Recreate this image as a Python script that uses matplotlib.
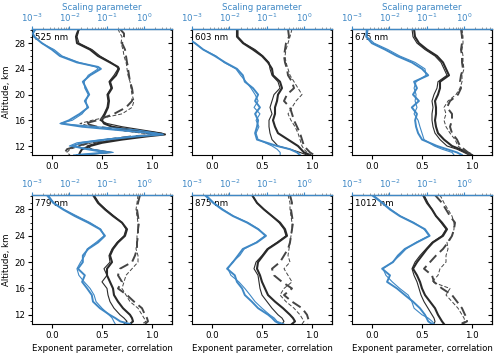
import numpy as np
import matplotlib
matplotlib.use("Agg")
import matplotlib.pyplot as plt
from matplotlib.ticker import MultipleLocator, LogLocator, NullFormatter

# ---------------- data ----------------
wavelengths = ["525 nm", "603 nm", "675 nm", "779 nm", "875 nm", "1012 nm"]

alt_525 = [30.2, 29.5, 29, 28, 27, 26, 25, 24.3, 24, 23, 22, 21, 20, 19, 18, 17, 16,
           15.5, 15, 14.5, 14, 13.8, 13.5, 13, 12.5, 12, 11.5, 11, 10.6]
alt_std = [30.2, 29, 28, 27, 26, 25, 24, 23, 22, 21, 20, 19, 18, 17, 16, 15, 14, 13,
           12, 11.5, 11, 10.6]

# scaling parameter (blue, top log axis): thick / thin
scal_thick_525 = [1.2e-3, 1.06e-3, 1.13e-3, 1.85e-3, 3.4e-3, 5.6e-3, 1.6e-2, 5.9e-2, 7.0e-2,
                  3.6e-2, 2.3e-2, 2.8e-2, 3.4e-2, 2.6e-2, 3.2e-2, 1.9e-2, 9.8e-3, 6.0e-3,
                  2.2e-2, 0.19, 1.64, 3.2, 0.65, 0.10, 2.2e-2, 1.2e-2, 3.0e-2, 0.10, 1.6e-2]
scal_thin_525 = [1.3e-3, 1.06e-3, 1.2e-3, 1.8e-3, 3.9e-3, 6.4e-3, 1.8e-2, 5.2e-2, 5.9e-2,
                 3.2e-2, 2.5e-2, 2.6e-2, 3.2e-2, 2.8e-2, 3.0e-2, 2.2e-2, 1.2e-2, 5.6e-3,
                 5.5e-2, 0.65, 2.2, 2.7, 0.48, 7.5e-2, 1.6e-2, 1.0e-2, 4.0e-2, 0.15, 1.3e-2]
scal_thick_603 = [4e-4, 6.5e-4, 1.2e-3, 2.0e-3, 4.1e-3, 7.7e-3, 1.6e-2, 2.3e-2, 2.6e-2, 4.3e-2,
                  5.9e-2, 4.9e-2, 6.6e-2, 4.9e-2, 5.9e-2, 5.5e-2, 4.9e-2, 5.5e-2, 0.19, 0.42,
                  0.65, 0.78]
scal_thin_603 = [4e-4, 6.5e-4, 1.2e-3, 2.0e-3, 4.4e-3, 7.2e-3, 1.5e-2, 2.0e-2, 2.8e-2, 3.8e-2,
                 4.9e-2, 5.9e-2, 4.6e-2, 6.6e-2, 5.2e-2, 6.2e-2, 5.2e-2, 5.9e-2, 0.14, 0.19,
                 0.23, 0.23]
scal_thick_675 = [2.5e-3, 2.4e-3, 3.4e-3, 7.7e-3, 1.6e-2, 4.0e-2, 7.5e-2, 0.11, 4.6e-2, 5.5e-2,
                  4.3e-2, 6.2e-2, 4.0e-2, 5.5e-2, 4.9e-2, 5.2e-2, 5.9e-2, 7.5e-2, 0.19, 0.35,
                  0.65, 0.88]
scal_thin_675 = [2.7e-3, 2.5e-3, 3.9e-3, 9.2e-3, 1.9e-2, 4.9e-2, 9.0e-2, 9.6e-2, 5.2e-2, 4.6e-2,
                 5.2e-2, 4.9e-2, 5.5e-2, 4.6e-2, 5.9e-2, 6.6e-2, 7.5e-2, 8.5e-2, 0.16, 0.26,
                 0.48, 0.54]
scal_thick_779 = [2.5e-3, 3.7e-3, 6.8e-3, 1.4e-2, 3.2e-2, 6.6e-2, 9.0e-2, 5.9e-2, 3.2e-2, 2.3e-2,
                  2.3e-2, 1.7e-2, 2.6e-2, 2.2e-2, 3.0e-2, 4.0e-2, 4.3e-2, 6.6e-2, 0.12, 0.17,
                  0.23, 0.42]
scal_thin_779 = [2.7e-3, 3.9e-3, 7.2e-3, 1.6e-2, 3.6e-2, 7.0e-2, 8.5e-2, 5.2e-2, 3.0e-2, 2.6e-2,
                 2.0e-2, 1.6e-2, 1.8e-2, 2.5e-2, 3.6e-2, 4.6e-2, 5.2e-2, 7.5e-2, 0.115, 0.14,
                 0.155, 0.17]
scal_thick_875 = [2.2e-3, 3.7e-3, 6.4e-3, 1.25e-2, 3.0e-2, 5.9e-2, 9.6e-2, 5.5e-2, 2.3e-2, 1.7e-2,
                  1.25e-2, 8.7e-3, 1.4e-2, 1.6e-2, 2.2e-2, 2.6e-2, 4.0e-2, 5.9e-2, 0.11, 0.14,
                  0.17, 0.23]
scal_thin_875 = [2.4e-3, 3.9e-3, 6.8e-3, 1.3e-2, 3.2e-2, 6.2e-2, 9.0e-2, 5.2e-2, 2.5e-2, 1.9e-2,
                 1.2e-2, 9.2e-3, 1.1e-2, 1.8e-2, 2.6e-2, 3.6e-2, 4.9e-2, 7.5e-2, 0.12, 0.16,
                 0.19, 0.29]
scal_thick_1012 = [3.4e-3, 6.4e-3, 1.04e-2, 1.9e-2, 4.3e-2, 9.0e-2, 0.12, 5.5e-2, 2.6e-2, 1.7e-2,
                   1.25e-2, 6.4e-3, 1.04e-2, 8.7e-3, 1.6e-2, 2.6e-2, 4.3e-2, 6.6e-2, 9.0e-2, 0.10,
                   0.11, 0.14]
scal_thin_1012 = [3.7e-3, 6.8e-3, 1.1e-2, 2.0e-2, 4.6e-2, 8.5e-2, 0.116, 5.2e-2, 2.8e-2, 1.9e-2,
                  1.2e-2, 6.8e-3, 8.1e-3, 1.2e-2, 1.9e-2, 3.2e-2, 4.0e-2, 4.6e-2, 7.5e-2, 0.11,
                  0.14, 0.16]

# exponent parameter (black solid): thick / thin
expo_thick_525 = [0.27, 0.25, 0.24, 0.25, 0.38, 0.46, 0.58, 0.66, 0.67, 0.64, 0.58, 0.60, 0.56,
                  0.57, 0.56, 0.53, 0.50, 0.52, 0.60, 0.80, 1.05, 1.13, 0.95, 0.70, 0.50, 0.38,
                  0.30, 0.28, 0.27]
expo_thin_525 = [0.27, 0.26, 0.25, 0.27, 0.40, 0.48, 0.59, 0.65, 0.66, 0.62, 0.57, 0.59, 0.55,
                 0.56, 0.55, 0.52, 0.48, 0.55, 0.70, 0.90, 1.10, 1.12, 0.90, 0.65, 0.45, 0.35,
                 0.40, 0.60, 0.30]
expo_thick_603 = [0.25, 0.25, 0.31, 0.41, 0.50, 0.56, 0.60, 0.61, 0.68, 0.70, 0.66, 0.65, 0.63,
                  0.63, 0.61, 0.63, 0.66, 0.76, 0.86, 0.89, 0.92, 0.98]
expo_thin_603 = [0.26, 0.26, 0.32, 0.43, 0.51, 0.57, 0.58, 0.60, 0.66, 0.68, 0.62, 0.60, 0.58,
                 0.60, 0.57, 0.57, 0.58, 0.60, 0.66, 0.78, 0.88, 0.95]
expo_thick_675 = [0.42, 0.43, 0.47, 0.55, 0.65, 0.71, 0.74, 0.77, 0.68, 0.68, 0.66, 0.63, 0.64,
                  0.64, 0.63, 0.64, 0.66, 0.72, 0.80, 0.88, 0.95, 1.00]
expo_thin_675 = [0.40, 0.41, 0.45, 0.53, 0.63, 0.69, 0.72, 0.75, 0.66, 0.65, 0.62, 0.60, 0.61,
                 0.60, 0.60, 0.61, 0.63, 0.68, 0.75, 0.85, 0.92, 0.97]
expo_thick_779 = [0.41, 0.46, 0.53, 0.61, 0.70, 0.75, 0.73, 0.66, 0.61, 0.58, 0.60, 0.55, 0.55,
                  0.58, 0.61, 0.62, 0.66, 0.71, 0.78, 0.80, 0.81, 0.78]
expo_thin_779 = [0.42, 0.47, 0.54, 0.62, 0.70, 0.74, 0.72, 0.65, 0.60, 0.57, 0.58, 0.52, 0.55,
                 0.50, 0.55, 0.56, 0.58, 0.62, 0.68, 0.72, 0.75, 0.72]
expo_thick_875 = [0.40, 0.45, 0.52, 0.60, 0.68, 0.73, 0.75, 0.66, 0.56, 0.51, 0.46, 0.45, 0.48,
                  0.50, 0.53, 0.56, 0.63, 0.71, 0.78, 0.81, 0.83, 0.80]
expo_thin_875 = [0.40, 0.45, 0.52, 0.60, 0.67, 0.72, 0.74, 0.65, 0.55, 0.50, 0.44, 0.42, 0.46,
                 0.47, 0.48, 0.50, 0.55, 0.60, 0.66, 0.70, 0.72, 0.70]
expo_thick_1012 = [0.51, 0.55, 0.60, 0.64, 0.70, 0.75, 0.71, 0.61, 0.55, 0.50, 0.45, 0.41, 0.45,
                   0.48, 0.50, 0.53, 0.58, 0.63, 0.66, 0.68, 0.70, 0.72]
expo_thin_1012 = [0.52, 0.56, 0.60, 0.64, 0.69, 0.74, 0.70, 0.60, 0.54, 0.48, 0.43, 0.40, 0.42,
                  0.45, 0.47, 0.49, 0.52, 0.56, 0.60, 0.62, 0.63, 0.62]

# correlation (black dashed): thick / thin
corr_thick_525 = [0.68, 0.72, 0.72, 0.70, 0.73, 0.74, 0.75, 0.76, 0.76, 0.77, 0.78, 0.80, 0.81,
                  0.80, 0.74, 0.62, 0.45, 0.33, 0.45, 0.70, 0.95, 1.08, 0.80, 0.55, 0.38, 0.25,
                  0.15, 0.13, 0.16]
corr_thin_525 = [0.66, 0.68, 0.70, 0.69, 0.71, 0.72, 0.74, 0.75, 0.75, 0.76, 0.78, 0.79, 0.80,
                 0.82, 0.80, 0.70, 0.40, 0.28, 0.40, 0.65, 0.90, 1.05, 0.85, 0.60, 0.40, 0.28,
                 0.18, 0.15, 0.18]
corr_thick_603 = [0.76, 0.77, 0.74, 0.73, 0.72, 0.73, 0.75, 0.76, 0.80, 0.82, 0.75, 0.72, 0.78,
                  0.80, 0.82, 0.85, 0.88, 0.90, 0.92, 0.95, 0.98, 1.02]
corr_thin_603 = [0.80, 0.78, 0.76, 0.74, 0.73, 0.74, 0.76, 0.78, 0.82, 0.86, 0.90, 0.84, 0.80,
                 0.76, 0.79, 0.83, 0.86, 0.88, 0.90, 0.92, 0.95, 0.98]
corr_thick_675 = [0.89, 0.90, 0.90, 0.89, 0.90, 0.90, 0.91, 0.89, 0.88, 0.89, 0.86, 0.78, 0.75,
                  0.80, 0.80, 0.78, 0.80, 0.85, 0.88, 0.92, 0.96, 1.01]
corr_thin_675 = [0.90, 0.91, 0.91, 0.90, 0.91, 0.91, 0.92, 0.90, 0.90, 0.88, 0.84, 0.76, 0.72,
                 0.74, 0.72, 0.74, 0.78, 0.83, 0.86, 0.90, 0.94, 0.98]
corr_thick_779 = [0.88, 0.86, 0.85, 0.86, 0.87, 0.86, 0.86, 0.85, 0.85, 0.83, 0.80, 0.68, 0.66,
                  0.70, 0.66, 0.75, 0.82, 0.90, 0.93, 0.95, 0.96, 0.93]
corr_thin_779 = [0.86, 0.85, 0.84, 0.85, 0.86, 0.86, 0.85, 0.85, 0.84, 0.86, 0.86, 0.80, 0.74,
                 0.72, 0.70, 0.74, 0.78, 0.86, 0.90, 0.92, 0.94, 0.90]
corr_thick_875 = [0.78, 0.80, 0.79, 0.80, 0.81, 0.80, 0.79, 0.78, 0.76, 0.72, 0.68, 0.60, 0.62,
                  0.70, 0.80, 0.72, 0.80, 0.90, 0.95, 0.96, 0.97, 0.96]
corr_thin_875 = [0.76, 0.78, 0.78, 0.79, 0.80, 0.80, 0.79, 0.78, 0.77, 0.76, 0.78, 0.72, 0.76,
                 0.80, 0.72, 0.68, 0.74, 0.82, 0.88, 0.90, 0.92, 0.90]
corr_thick_1012 = [0.63, 0.70, 0.74, 0.78, 0.83, 0.82, 0.80, 0.76, 0.71, 0.64, 0.58, 0.52, 0.60,
                   0.62, 0.70, 0.80, 0.85, 0.90, 0.93, 0.95, 0.95, 0.90]
corr_thin_1012 = [0.68, 0.72, 0.76, 0.80, 0.82, 0.82, 0.80, 0.75, 0.76, 0.74, 0.74, 0.68, 0.66,
                  0.60, 0.78, 0.74, 0.80, 0.86, 0.90, 0.92, 0.93, 0.88]

panels = [
    (alt_525, scal_thick_525, scal_thin_525, expo_thick_525, expo_thin_525, corr_thick_525, corr_thin_525),
    (alt_std, scal_thick_603, scal_thin_603, expo_thick_603, expo_thin_603, corr_thick_603, corr_thin_603),
    (alt_std, scal_thick_675, scal_thin_675, expo_thick_675, expo_thin_675, corr_thick_675, corr_thin_675),
    (alt_std, scal_thick_779, scal_thin_779, expo_thick_779, expo_thin_779, corr_thick_779, corr_thin_779),
    (alt_std, scal_thick_875, scal_thin_875, expo_thick_875, expo_thin_875, corr_thick_875, corr_thin_875),
    (alt_std, scal_thick_1012, scal_thin_1012, expo_thick_1012, expo_thin_1012, corr_thick_1012, corr_thin_1012),
]

# ---------------- figure ----------------
BLUE = "#3f88c5"
fig = plt.figure(figsize=(5.0, 3.55), dpi=100)

W = 500.0
H = 355.0
lefts = [32, 192, 352]
rows = [(29, 155), (195, 324)]
fs = 6.2

for i, (alt, sth, stn, eth, etn, cth, ctn) in enumerate(panels):
    r, c = divmod(i, 3)
    top, bot = rows[r]
    ax = fig.add_axes([lefts[c] / W, 1 - bot / H, 140 / W, (bot - top) / H])

    ax.plot(eth, alt, color="#2a2a2a", lw=1.5, zorder=3)
    ax.plot(etn, alt, color="#2a2a2a", lw=0.8, zorder=3)
    ax.plot(cth, alt, color="#444444", lw=1.4, ls=(0, (5, 2.5)), zorder=3)
    ax.plot(ctn, alt, color="#444444", lw=0.7, ls=(0, (4, 2)), zorder=3)

    ax.set_xlim(-0.2, 1.2)
    ax.set_ylim(10.6, 30.2)
    ax.set_xticks([0.0, 0.5, 1.0])
    ax.set_yticks([12, 16, 20, 24, 28])
    ax.yaxis.set_minor_locator(MultipleLocator(1))
    ax.tick_params(labelsize=fs, length=3, width=0.8, pad=2)
    ax.tick_params(which="minor", length=1.8, width=0.6)
    for sp in ax.spines.values():
        sp.set_linewidth(0.8)
    if c == 0:
        ax.set_ylabel("Altitude, km", fontsize=fs, labelpad=2)
    else:
        ax.tick_params(labelleft=False)
    if r == 1:
        ax.set_xlabel("Exponent parameter, correlation", fontsize=fs, labelpad=3)

    sec = ax.secondary_yaxis("right")
    sec.set_yticks([12, 16, 20, 24, 28])
    sec.yaxis.set_minor_locator(MultipleLocator(1))
    sec.tick_params(direction="in", labelright=False, length=3, width=0.8)
    sec.tick_params(which="minor", direction="in", length=1.8, width=0.6)
    sec.spines["right"].set_linewidth(0.8)

    tw = ax.twiny()
    tw.set_xscale("log")
    tw.plot(sth, alt, color=BLUE, lw=1.4, zorder=2)
    tw.plot(stn, alt, color=BLUE, lw=0.8, zorder=2)
    tw.set_xlim(1e-3, 10 ** 0.75)
    tw.xaxis.set_major_locator(LogLocator(base=10, numticks=10))
    tw.xaxis.set_minor_locator(LogLocator(base=10, subs=np.arange(2, 10), numticks=20))
    tw.xaxis.set_minor_formatter(NullFormatter())
    tw.tick_params(axis="x", colors=BLUE, labelsize=fs, length=2.5, width=0.8, pad=1)
    tw.tick_params(axis="x", which="minor", colors="#777777", length=1.5, width=0.5)
    tw.spines["top"].set_color(BLUE)
    tw.spines["top"].set_linewidth(1.0)
    for k in ("left", "right", "bottom"):
        tw.spines[k].set_visible(False)
    if r == 0:
        tw.set_xlabel("Scaling parameter", color=BLUE, fontsize=fs, labelpad=1)

    ax.text(0.02, 0.97, wavelengths[i], transform=ax.transAxes, fontsize=fs,
            va="top", ha="left", zorder=6)

fig.savefig("out.png", dpi=100)
